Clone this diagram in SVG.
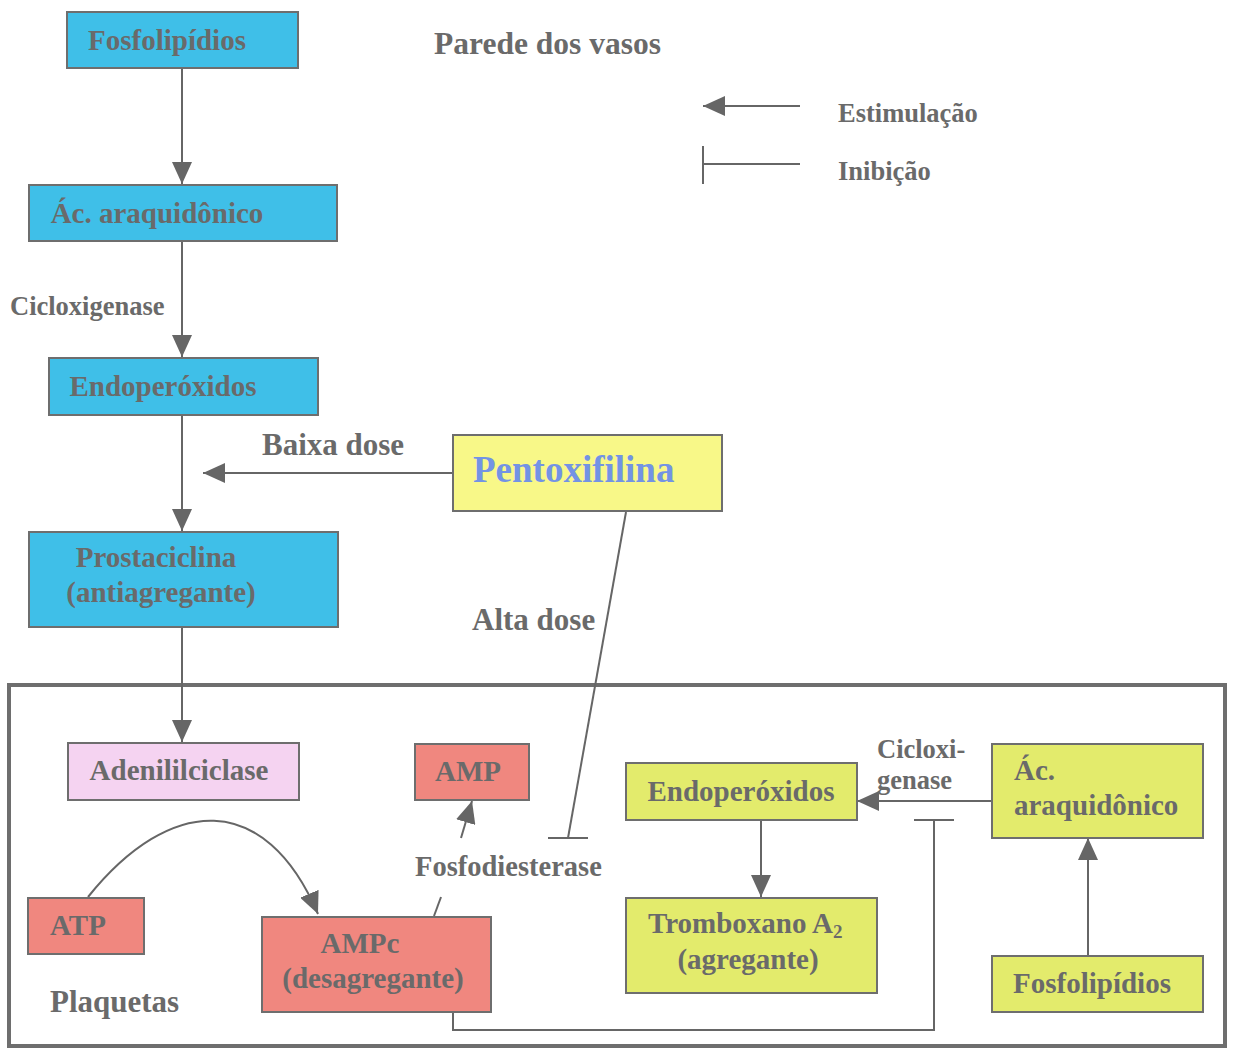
<svg xmlns="http://www.w3.org/2000/svg" width="1233" height="1050" viewBox="0 0 1233 1050">
<style>
.box{stroke:#6e6e6e;stroke-width:2}
.blue{fill:#3fbfe8}
.yel{fill:#f8f888}
.grn{fill:#e3eb6c}
.pink{fill:#f5d3f1}
.red{fill:#f0877f}
.t{font-family:"Liberation Serif","Times New Roman",serif;font-weight:bold;fill:#6a6a6a}
.n{font-size:29px}
.l{stroke:#666;stroke-width:2;fill:none}
</style>
<defs>
<marker id="ah" viewBox="0 0 22 20" refX="22" refY="10" markerWidth="22" markerHeight="20" markerUnits="userSpaceOnUse" orient="auto">
<path d="M0,0 L22,10 L0,20 z" fill="#666"/>
</marker>
</defs>
<rect width="1233" height="1050" fill="#fff"/>
<rect x="9" y="685" width="1216" height="361" fill="none" stroke="#6e6e6e" stroke-width="4"/>

<g id="connectors">
<line class="l" x1="182" y1="68" x2="182" y2="184" marker-end="url(#ah)"/>
<line class="l" x1="182" y1="241" x2="182" y2="357" marker-end="url(#ah)"/>
<line class="l" x1="182" y1="415" x2="182" y2="531" marker-end="url(#ah)"/>
<line class="l" x1="452" y1="473" x2="203" y2="473" marker-end="url(#ah)"/>
<line class="l" x1="182" y1="627" x2="182" y2="742" marker-end="url(#ah)"/>
<line class="l" stroke-width="1.5" x1="626" y1="512" x2="568" y2="838"/>
<line class="l" x1="548" y1="838" x2="588" y2="838"/>
<path class="l" d="M88,897 C170,795 265,790 318,914" marker-end="url(#ah)"/>
<line class="l" x1="461" y1="838" x2="472" y2="801" marker-end="url(#ah)"/>
<line class="l" x1="434" y1="916" x2="441" y2="897"/>
<polyline class="l" points="453,1012 453,1030 934,1030 934,820"/>
<line class="l" x1="914" y1="820" x2="954" y2="820"/>
<line class="l" x1="991" y1="801" x2="857" y2="801" marker-end="url(#ah)"/>
<line class="l" x1="1088" y1="955" x2="1088" y2="838" marker-end="url(#ah)"/>
<line class="l" x1="761" y1="820" x2="761" y2="897" marker-end="url(#ah)"/>
<line class="l" x1="800" y1="106" x2="703" y2="106" marker-end="url(#ah)"/>
<line class="l" x1="703" y1="164" x2="800" y2="164"/>
<line class="l" x1="703" y1="146" x2="703" y2="184"/>
</g>

<g id="fosfolipidios1"><rect class="box blue" x="67" y="12" width="231" height="56"/><text class="t n" x="167" y="50" text-anchor="middle">Fosfolipídios</text></g>
<g id="acido1"><rect class="box blue" x="29" y="185" width="308" height="56"/><text class="t n" x="157" y="223" text-anchor="middle">Ác. araquidônico</text></g>
<g id="endoperoxidos1"><rect class="box blue" x="49" y="358" width="269" height="57"/><text class="t n" x="163" y="396" text-anchor="middle">Endoperóxidos</text></g>
<g id="prostaciclina"><rect class="box blue" x="29" y="532" width="309" height="95"/><text class="t n" x="156" y="567" text-anchor="middle">Prostaciclina</text><text class="t n" x="161" y="602" text-anchor="middle">(antiagregante)</text></g>
<g id="pentoxifilina"><rect class="box yel" x="453" y="435" width="269" height="76"/><text class="t" x="473" y="482" font-size="37" style="fill:#7393e4">Pentoxifilina</text></g>
<g id="adenililciclase"><rect class="box pink" x="68" y="743" width="231" height="57"/><text class="t n" x="179" y="780" text-anchor="middle">Adenililciclase</text></g>
<g id="amp"><rect class="box red" x="415" y="744" width="114" height="56"/><text class="t n" x="468" y="781" text-anchor="middle">AMP</text></g>
<g id="atp"><rect class="box red" x="28" y="898" width="116" height="56"/><text class="t n" x="78" y="935" text-anchor="middle">ATP</text></g>
<g id="ampc"><rect class="box red" x="262" y="917" width="229" height="95"/><text class="t n" x="360" y="953" text-anchor="middle">AMPc</text><text class="t n" x="373" y="988" text-anchor="middle">(desagregante)</text></g>
<g id="endoperoxidos2"><rect class="box grn" x="626" y="763" width="231" height="57"/><text class="t n" x="741" y="801" text-anchor="middle">Endoperóxidos</text></g>
<g id="tromboxano"><rect class="box grn" x="626" y="898" width="251" height="95"/><text class="t n" x="648" y="933">Tromboxano A<tspan font-size="19" dy="5">2</tspan></text><text class="t n" x="748" y="969" text-anchor="middle">(agregante)</text></g>
<g id="acido2"><rect class="box grn" x="992" y="744" width="211" height="94"/><text class="t n" x="1014" y="780">Ác.</text><text class="t n" x="1014" y="815">araquidônico</text></g>
<g id="fosfolipidios2"><rect class="box grn" x="992" y="956" width="211" height="56"/><text class="t n" x="1092" y="993" text-anchor="middle">Fosfolipídios</text></g>

<g id="labels">
<text class="t" x="434" y="54" font-size="31.5">Parede dos vasos</text>
<text class="t" x="838" y="122" font-size="26.5">Estimulação</text>
<text class="t" x="838" y="180" font-size="26.5">Inibição</text>
<text class="t" x="10" y="315" font-size="26.5">Cicloxigenase</text>
<text class="t" x="262" y="455" font-size="31">Baixa dose</text>
<text class="t" x="472" y="630" font-size="31">Alta dose</text>
<text class="t" x="415" y="876" font-size="28.5">Fosfodiesterase</text>
<text class="t" x="877" y="758" font-size="26.5">Cicloxi-</text>
<text class="t" x="877" y="789" font-size="26.5">genase</text>
<text class="t" x="50" y="1012" font-size="31">Plaquetas</text>
</g>
</svg>
